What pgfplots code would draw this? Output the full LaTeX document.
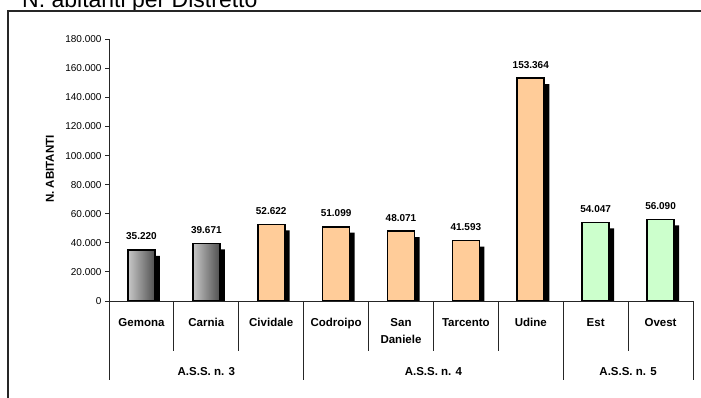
\documentclass[border=0pt]{standalone}
\usepackage{pgfplots}
\pgfplotsset{compat=1.18}
\usepackage{fontspec}
\setmainfont{Liberation Sans}
\definecolor{orangebar}{HTML}{FFCC99}
\definecolor{greenbar}{HTML}{CCFFCC}
\definecolor{graylight}{HTML}{C8C8C8}
\definecolor{graydark}{HTML}{505050}
\begin{document}
\begin{tikzpicture}[x=1pt,y=1pt,
  catlbl/.style={font=\bfseries\fontsize{11.5}{13}\selectfont, anchor=base, inner sep=0pt, yshift=-26pt},
  grplbl/.style={font=\bfseries\fontsize{11.5}{13}\selectfont, anchor=base, inner sep=0pt, yshift=-75pt}]
\path[use as bounding box] (0,0) rectangle (701,398);
\clip (0,0) rectangle (701,398);
\node[anchor=base west, inner sep=0pt, font=\fontsize{23}{26}\selectfont] at (22,390.5) {N. abitanti per Distretto};
\draw[line width=1.1pt, black!85] (8,-5) -- (8,387) -- (710,387);
\node[rotate=90, font=\bfseries\fontsize{11.5}{13}\selectfont, inner sep=0pt] at (50,229) {N. ABITANTI};
\begin{axis}[
  scale only axis, width=584pt, height=261.7pt,
  at={(109pt,97pt)}, anchor=south west,
  xmin=0, xmax=9, ymin=0, ymax=180000,
  enlargelimits=false,
  axis lines*=left,
  axis line style={line width=0.9pt, black!85},
  xtick=\empty,
  ytick={0,20000,...,180000},
  scaled y ticks=false,
  tick align=outside, major tick length=4pt,
  tick style={line width=0.9pt, black!85},
  yticklabel style={font=\fontsize{10}{12}\selectfont},
  /pgf/number format/fixed,
  /pgf/number format/precision=0,
  /pgf/number format/1000 sep={.},
  /pgf/number format/assume math mode=true,
  clip mode=individual,
  ybar, bar width=27pt, bar shift=0pt,
  every node near coord/.append style={font=\bfseries\fontsize{10}{12}\selectfont, anchor=base, yshift=10pt, inner sep=0pt},
]
% shadows (offset 5 px right, 6 px lower)
\addplot[fill=black, draw=none, bar shift=5pt] coordinates {
 (0.5,31093) (1.5,35544) (2.5,48495) (3.5,46972) (4.5,43944) (5.5,37466) (6.5,149237) (7.5,49920) (8.5,51963)};
% A.S.S. n. 3
\addplot[draw=black, line width=1.6pt, left color=graylight, right color=graydark, nodes near coords] coordinates {
 (0.5,35220)};
\addplot[draw=black, line width=1.6pt, left color=graylight, right color=graydark, nodes near coords] coordinates {
 (1.5,39671)};
% A.S.S. n. 4
\addplot[draw=black, line width=1.6pt, fill=orangebar, nodes near coords] coordinates {
 (2.5,52622) (3.5,51099) (4.5,48071) (5.5,41593) (6.5,153364)};
% A.S.S. n. 5
\addplot[draw=black, line width=1.6pt, fill=greenbar, nodes near coords] coordinates {
 (7.5,54047) (8.5,56090)};
% separators
\draw[line width=0.9pt, black!85] (axis cs:0,0) -- ++(0,-79pt);
\draw[line width=0.9pt, black!85] (axis cs:3,0) -- ++(0,-79pt);
\draw[line width=0.9pt, black!85] (axis cs:7,0) -- ++(0,-79pt);
\draw[line width=0.9pt, black!85] (axis cs:9,0) -- ++(0,-79pt);
\draw[line width=0.9pt, black!85] (axis cs:1,0) -- ++(0,-50pt);
\draw[line width=0.9pt, black!85] (axis cs:2,0) -- ++(0,-50pt);
\draw[line width=0.9pt, black!85] (axis cs:4,0) -- ++(0,-50pt);
\draw[line width=0.9pt, black!85] (axis cs:5,0) -- ++(0,-50pt);
\draw[line width=0.9pt, black!85] (axis cs:6,0) -- ++(0,-50pt);
\draw[line width=0.9pt, black!85] (axis cs:8,0) -- ++(0,-50pt);
% category labels
\node[catlbl] at (axis cs:0.5,0) {Gemona};
\node[catlbl] at (axis cs:1.5,0) {Carnia};
\node[catlbl] at (axis cs:2.5,0) {Cividale};
\node[catlbl] at (axis cs:3.5,0) {Codroipo};
\node[catlbl] at (axis cs:4.5,0) {San};
\node[catlbl, yshift=-17pt] at (axis cs:4.5,0) {Daniele};
\node[catlbl] at (axis cs:5.5,0) {Tarcento};
\node[catlbl] at (axis cs:6.5,0) {Udine};
\node[catlbl] at (axis cs:7.5,0) {Est};
\node[catlbl] at (axis cs:8.5,0) {Ovest};
% group labels
\node[grplbl] at (axis cs:1.5,0) {A.S.S. n. 3};
\node[grplbl] at (axis cs:5,0) {A.S.S. n. 4};
\node[grplbl] at (axis cs:8,0) {A.S.S. n. 5};
\end{axis}
\end{tikzpicture}
\end{document}
